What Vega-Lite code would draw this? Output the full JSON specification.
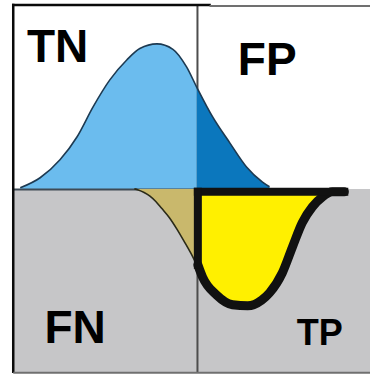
{
  "$schema": "https://vega.github.io/schema/vega-lite/v6.json",
  "width": 371,
  "height": 376,
  "padding": 0,
  "autosize": {"type": "fit", "contains": "padding"},
  "background": "white",
  "config": {"view": {"stroke": null}},
  "datasets": {
    "panel": [{"x0": -4.71, "x1": 4.45, "y0": 0, "y1": -5.11}],
    "frame": [
      {"edge": "left", "x0": -4.71, "x1": -4.71, "y0": 5.11, "y1": -5.08},
      {"edge": "top", "x0": -4.71, "x1": 0.33, "y0": 5.11, "y1": 5.11},
      {"edge": "topfaint", "x0": 0.33, "x1": 4.45, "y0": 5.08, "y1": 5.08},
      {"edge": "bottom", "x0": -4.71, "x1": 4.45, "y0": -5.11, "y1": -5.11},
      {"edge": "divider", "x0": 0.02, "x1": 0.02, "y0": 5.11, "y1": -5.11},
      {"edge": "baseline", "x0": -4.71, "x1": 0, "y0": -0.02, "y1": -0.02}
    ],
    "negatives": [
      {"x": -4.53, "y": 0.03, "side": "below threshold"},
      {"x": -4.02, "y": 0.31, "side": "below threshold"},
      {"x": -3.51, "y": 0.81, "side": "below threshold"},
      {"x": -3.07, "y": 1.45, "side": "below threshold"},
      {"x": -2.66, "y": 2.28, "side": "below threshold"},
      {"x": -2.23, "y": 3.03, "side": "below threshold"},
      {"x": -1.79, "y": 3.59, "side": "below threshold"},
      {"x": -1.46, "y": 3.9, "side": "below threshold"},
      {"x": -1.02, "y": 4.03, "side": "below threshold"},
      {"x": -0.61, "y": 3.88, "side": "below threshold"},
      {"x": -0.26, "y": 3.39, "side": "below threshold"},
      {"x": 0, "y": 2.83, "side": "below threshold"},
      {"x": 0, "y": 2.83, "side": "above threshold"},
      {"x": 0.41, "y": 2.0, "side": "above threshold"},
      {"x": 0.85, "y": 1.28, "side": "above threshold"},
      {"x": 1.28, "y": 0.61, "side": "above threshold"},
      {"x": 1.69, "y": 0.19, "side": "above threshold"},
      {"x": 1.87, "y": 0.06, "side": "above threshold"}
    ],
    "positivesLow": [
      {"x": -1.6, "y": 0},
      {"x": -1.5, "y": -0.03},
      {"x": -1.35, "y": -0.1},
      {"x": -1.2, "y": -0.2},
      {"x": -1.05, "y": -0.35},
      {"x": -0.9, "y": -0.54},
      {"x": -0.7, "y": -0.8},
      {"x": -0.5, "y": -1.13},
      {"x": -0.3, "y": -1.5},
      {"x": -0.1, "y": -1.89},
      {"x": 0, "y": -2.11}
    ],
    "positivesHigh": [
      {"x": 0.03, "y": -2.11},
      {"x": 0.15, "y": -2.45},
      {"x": 0.51, "y": -2.95},
      {"x": 0.92, "y": -3.22},
      {"x": 1.31, "y": -3.25},
      {"x": 1.67, "y": -3.09},
      {"x": 1.87, "y": -2.89},
      {"x": 2.2, "y": -2.33},
      {"x": 2.46, "y": -1.61},
      {"x": 2.71, "y": -0.94},
      {"x": 2.97, "y": -0.5},
      {"x": 3.23, "y": -0.22},
      {"x": 3.48, "y": -0.08},
      {"x": 3.79, "y": -0.08}
    ],
    "outline": [
      {"part": "top", "x0": 0.03, "x1": 3.79, "y0": -0.08, "y1": -0.08},
      {"part": "side", "x0": 0.03, "x1": 0.03, "y0": -0.08, "y1": -2.11}
    ],
    "labels": [
      {"label": "TN", "x": -3.57, "y": 3.53, "big": true},
      {"label": "FP", "x": 1.81, "y": 3.17, "big": true},
      {"label": "FN", "x": -3.12, "y": -4.28, "big": true},
      {"label": "TP", "x": 3.16, "y": -4.34, "big": false}
    ]
  },
  "encoding": {
    "x": {"field": "x", "type": "quantitative", "scale": {"domain": [-5.05, 4.45], "nice": false, "zero": false}, "axis": null},
    "y": {"field": "y", "type": "quantitative", "scale": {"domain": [-5.2, 5.25], "nice": false, "zero": false}, "axis": null}
  },
  "layer": [
    {
      "data": {"name": "panel"},
      "mark": {"type": "rect", "color": "#c6c6c8"},
      "encoding": {
        "x": {"field": "x0", "type": "quantitative"},
        "x2": {"field": "x1"},
        "y": {"field": "y0", "type": "quantitative"},
        "y2": {"field": "y1"}
      }
    },
    {
      "data": {"name": "frame"},
      "transform": [{"filter": "datum.edge === 'divider'"}],
      "mark": {"type": "rule", "color": "#4d4d4d", "strokeWidth": 2},
      "encoding": {
        "x": {"field": "x0", "type": "quantitative"},
        "x2": {"field": "x1"},
        "y": {"field": "y0", "type": "quantitative"},
        "y2": {"field": "y1"}
      }
    },
    {
      "data": {"name": "negatives"},
      "mark": {"type": "area", "interpolate": "monotone"},
      "encoding": {
        "y": {"field": "y", "type": "quantitative", "stack": null},
        "color": {"field": "side", "type": "nominal", "scale": {"domain": ["below threshold", "above threshold"], "range": ["#6bbcee", "#0b77bd"]}, "legend": null}
      }
    },
    {
      "data": {"name": "negatives"},
      "mark": {"type": "line", "interpolate": "monotone", "color": "#1d3a52", "strokeWidth": 1.6},
      "encoding": {}
    },
    {
      "data": {"name": "frame"},
      "transform": [{"filter": "datum.edge === 'baseline'"}],
      "mark": {"type": "rule", "color": "#3e4a55", "strokeWidth": 2},
      "encoding": {
        "x": {"field": "x0", "type": "quantitative"},
        "x2": {"field": "x1"},
        "y": {"field": "y0", "type": "quantitative"},
        "y2": {"field": "y1"}
      }
    },
    {
      "data": {"name": "positivesLow"},
      "mark": {"type": "area", "interpolate": "monotone", "color": "#c9b86c"},
      "encoding": {}
    },
    {
      "data": {"name": "positivesLow"},
      "mark": {"type": "line", "interpolate": "monotone", "color": "#2a2a18", "strokeWidth": 1.6},
      "encoding": {}
    },
    {
      "data": {"name": "positivesHigh"},
      "mark": {"type": "area", "interpolate": "monotone", "color": "#fff000"},
      "encoding": {}
    },
    {
      "data": {"name": "positivesHigh"},
      "mark": {"type": "line", "interpolate": "monotone", "color": "#111111", "strokeWidth": 9, "strokeCap": "round", "strokeJoin": "round"},
      "encoding": {}
    },
    {
      "data": {"name": "outline"},
      "mark": {"type": "rule", "color": "#111111", "strokeWidth": 8, "strokeCap": "square"},
      "encoding": {
        "x": {"field": "x0", "type": "quantitative"},
        "x2": {"field": "x1"},
        "y": {"field": "y0", "type": "quantitative"},
        "y2": {"field": "y1"}
      }
    },
    {
      "data": {"name": "frame"},
      "transform": [{"filter": "datum.edge === 'left' || datum.edge === 'top'"}],
      "mark": {"type": "rule", "color": "#0a0a0a", "strokeWidth": 2.5, "strokeCap": "square"},
      "encoding": {
        "x": {"field": "x0", "type": "quantitative"},
        "x2": {"field": "x1"},
        "y": {"field": "y0", "type": "quantitative"},
        "y2": {"field": "y1"}
      }
    },
    {
      "data": {"name": "frame"},
      "transform": [{"filter": "datum.edge === 'topfaint' || datum.edge === 'bottom'"}],
      "mark": {"type": "rule", "color": "#707070", "strokeWidth": 2},
      "encoding": {
        "x": {"field": "x0", "type": "quantitative"},
        "x2": {"field": "x1"},
        "y": {"field": "y0", "type": "quantitative"},
        "y2": {"field": "y1"}
      }
    },
    {
      "data": {"name": "labels"},
      "transform": [{"filter": "datum.big"}],
      "mark": {"type": "text", "font": "Liberation Sans", "fontWeight": "bold", "fontSize": 46, "align": "center", "baseline": "alphabetic", "color": "#000000"},
      "encoding": {"text": {"field": "label"}}
    },
    {
      "data": {"name": "labels"},
      "transform": [{"filter": "!datum.big"}],
      "mark": {"type": "text", "font": "Liberation Sans", "fontWeight": "bold", "fontSize": 36, "align": "center", "baseline": "alphabetic", "color": "#000000"},
      "encoding": {"text": {"field": "label"}}
    }
  ]
}
